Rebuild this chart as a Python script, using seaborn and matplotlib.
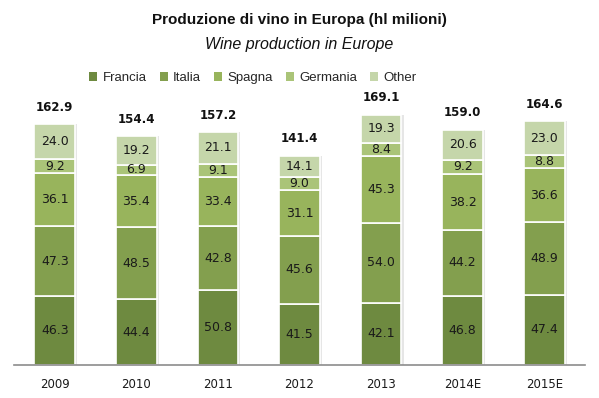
import numpy as np
import pandas as pd
import seaborn as sns
import matplotlib
matplotlib.use('Agg')
import matplotlib.pyplot as plt
from matplotlib.patches import Patch

years = ['2009', '2010', '2011', '2012', '2013', '2014E', '2015E']
francia = [46.3, 44.4, 50.8, 41.5, 42.1, 46.8, 47.4]
italia = [47.3, 48.5, 42.8, 45.6, 54.0, 44.2, 48.9]
spagna = [36.1, 35.4, 33.4, 31.1, 45.3, 38.2, 36.6]
germania = [9.2, 6.9, 9.1, 9.0, 8.4, 9.2, 8.8]
other = [24.0, 19.2, 21.1, 14.1, 19.3, 20.6, 23.0]
totals = [162.9, 154.4, 157.2, 141.4, 169.1, 159.0, 164.6]

series = ['Francia', 'Italia', 'Spagna', 'Germania', 'Other']
values = [francia, italia, spagna, germania, other]
colors = ['#6E8A40', '#839F4E', '#98B45C', '#AAC478', '#C5D6AA']

sns.set_style('white')
narrow = ['Liberation Sans', 'DejaVu Sans']

fig = plt.figure(figsize=(5.99, 3.98), dpi=100)
ax = fig.add_axes([14 / 599, 33 / 398, 571 / 599, 265 / 398])

# faint shadow to the right of each bar
df_tot = pd.DataFrame({'year': years, 'val': totals})
sns.barplot(data=df_tot, x='year', y='val', color='#e6e6e6', width=0.5,
            linewidth=0, ax=ax, saturation=1, errorbar=None)
for p in ax.patches:
    p.set_x(p.get_x() + 0.025)

bottom = np.zeros(len(years))
for name, vals, col in zip(series, values, colors):
    df = pd.DataFrame({'year': years, 'val': vals})
    sns.barplot(data=df, x='year', y='val', color=col, bottom=bottom,
                width=0.5, edgecolor='white', linewidth=1.2, ax=ax,
                saturation=1, errorbar=None)
    for i, v in enumerate(vals):
        ax.text(i, bottom[i] + v / 2, f'{v:.1f}', ha='center', va='center',
                fontsize=9, color='#1a1a1a')
    bottom += np.array(vals)

for i, t in enumerate(totals):
    ax.annotate(f'{t:.1f}', (i, t), xytext=(0, 12), textcoords='offset points',
                ha='center', va='center', fontsize=8.5, fontweight='bold',
                color='#111111')

ax.set_xlim(-0.5, 6.5)
ax.set_ylim(0, 179)
ax.set_xlabel('')
ax.set_ylabel('')
ax.set_yticks([])
for s in ['top', 'right', 'left']:
    ax.spines[s].set_visible(False)
ax.spines['bottom'].set_color('#8c8c8c')
ax.spines['bottom'].set_linewidth(1.2)
ax.tick_params(axis='x', length=0, pad=9, labelsize=8.5, labelcolor='#1a1a1a')

fig.text(0.5, 1 - 20 / 398, 'Produzione di vino in Europa (hl milioni)',
         ha='center', va='center', fontsize=11, fontweight='bold',
         family=narrow, color='#111111')
fig.text(0.5, 1 - 45 / 398, 'Wine production in Europe',
         ha='center', va='center', fontsize=11.5, style='italic',
         family=narrow, color='#111111')

handles = [Patch(facecolor=c, edgecolor='none', label=n) for n, c in zip(series, colors)]
fig.legend(handles=handles, loc='center', bbox_to_anchor=(253 / 599, 1 - 78 / 398),
           ncol=5, frameon=False, handlelength=0.6, handleheight=0.6,
           handletextpad=0.4, columnspacing=1.0,
           prop={'family': narrow, 'size': 9.5})

fig.savefig('out.png', dpi=100)
